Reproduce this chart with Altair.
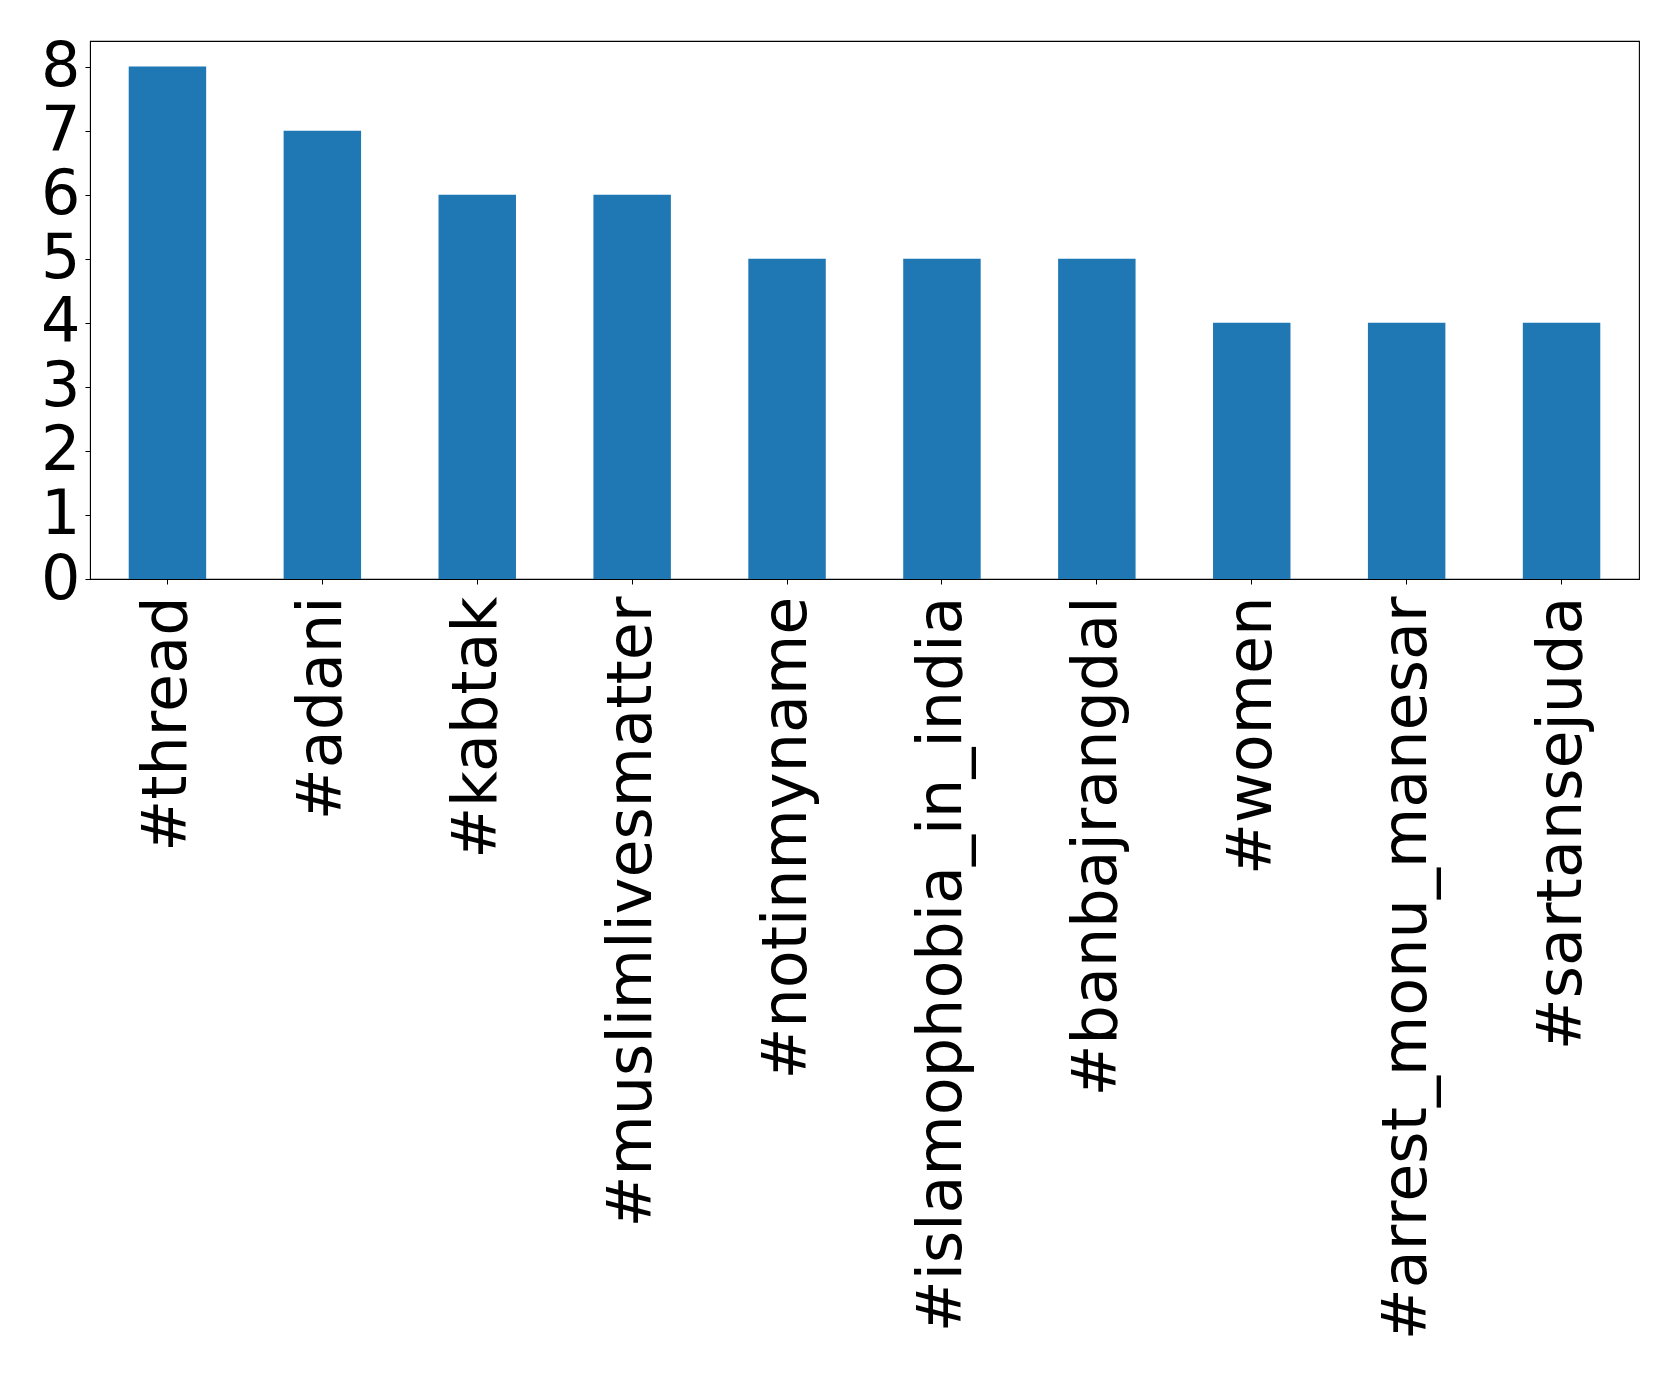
import altair as alt
import pandas as pd

tags = ["#thread", "#adani", "#kabtak", "#muslimlivesmatter", "#notinmyname",
        "#islamophobia_in_india", "#banbajrangdal", "#women",
        "#arrest_monu_manesar", "#sartansejuda"]
counts = [8, 7, 6, 6, 5, 5, 5, 4, 4, 4]

df = pd.DataFrame({"tag": tags, "count": counts})

FONT = "DejaVu Sans"

chart = alt.Chart(df).mark_bar(color="#1f77b4").encode(
    x=alt.X("tag:N", sort=tags, title=None,
            scale=alt.Scale(paddingInner=0.5, paddingOuter=0.25),
            axis=alt.Axis(labelAngle=270, labelFontSize=62, labelFont=FONT,
                          labelColor="black", tickColor="black", domainColor="black",
                          tickSize=5, labelPadding=12, labelLimit=0, grid=False)),
    y=alt.Y("count:Q", title=None,
            scale=alt.Scale(domain=[0, 8.4], nice=False, zero=True),
            axis=alt.Axis(values=[0, 1, 2, 3, 4, 5, 6, 7, 8], labelFontSize=62,
                          labelFont=FONT, labelColor="black", tickColor="black",
                          domainColor="black", tickSize=5, labelPadding=5,
                          grid=False, labelOverlap=False, labelFlush=False)),
).properties(
    width=1549, height=538,
    padding={"left": 32, "top": 27, "right": 5, "bottom": 5},
).configure(
    background="white"
).configure_view(
    stroke="black", strokeWidth=1.1
)

chart.save("out.html", embed_options={"renderer": "svg", "actions": False})
